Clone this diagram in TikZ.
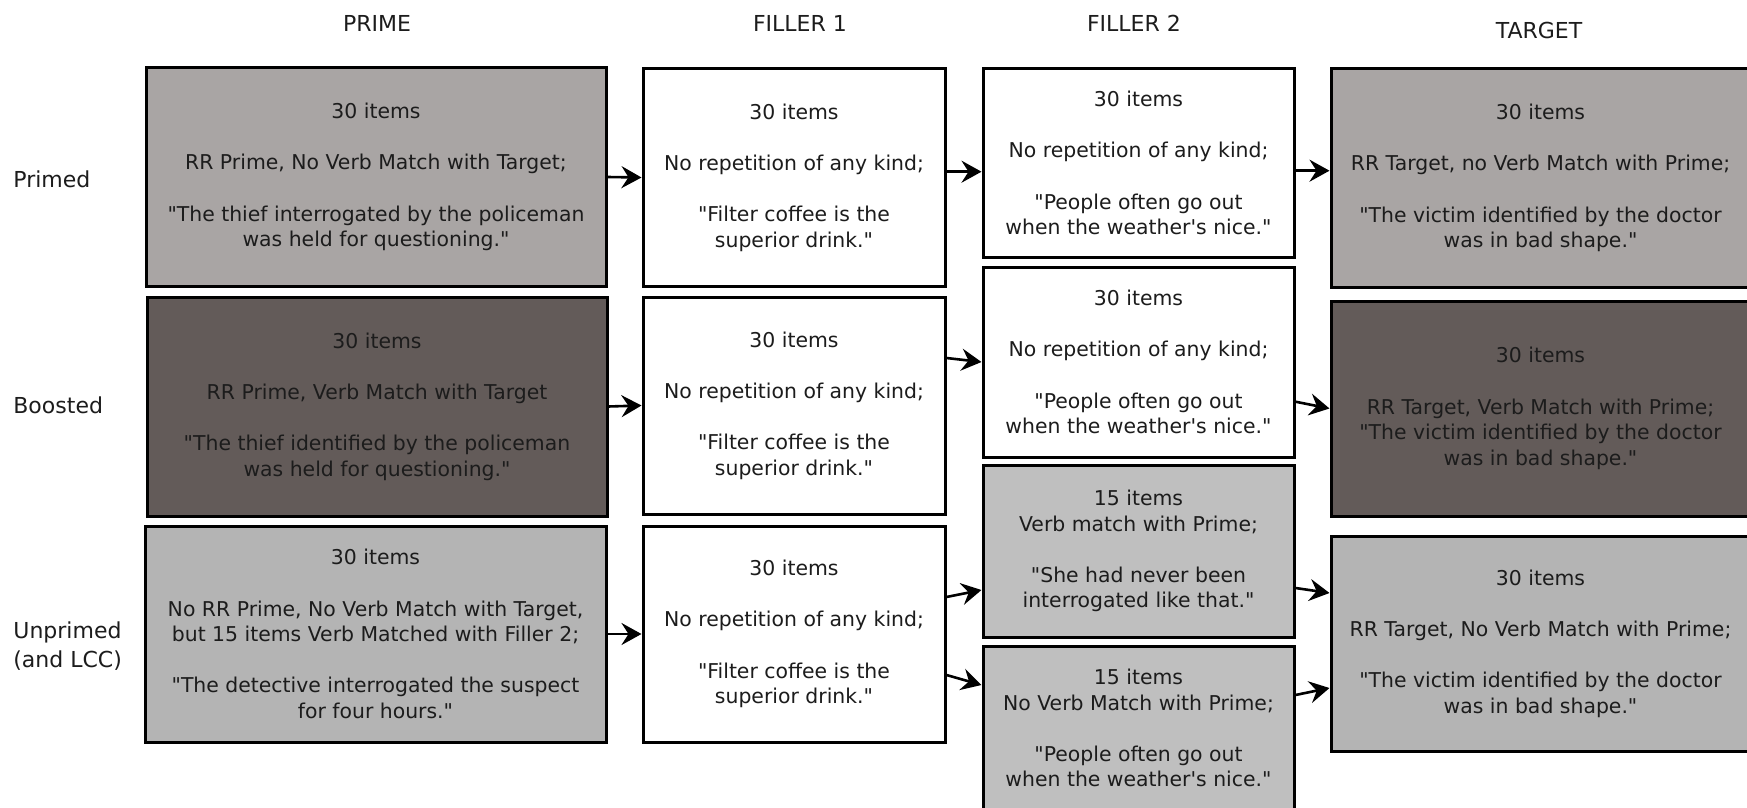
\documentclass[tikz,border=0pt]{standalone}
\usepackage{fontspec}
% plain family (no TeX ligature mapping, so quotes stay straight)
\newfontfamily\dejavu{DejaVu Sans}
\usetikzlibrary{arrows.meta}
\definecolor{primedgray}{RGB}{169,165,164}
\definecolor{boostgray}{RGB}{99,91,89}
\definecolor{unprimedgray}{RGB}{180,180,180}
\definecolor{fillgray}{RGB}{191,191,191}
\definecolor{txt}{RGB}{28,28,28}

\begin{document}
\begin{tikzpicture}[x=0.5pt,y=-0.5pt,
  box/.style={draw=black, line width=1.5pt, rectangle, inner sep=0pt, align=center,
              text=txt, font=\dejavu\fontsize{10.2}{12.8}\selectfont},
  head/.style={anchor=base, text=txt, font=\dejavu\fontsize{11}{13}\selectfont},
  rowlabel/.style={anchor=west, align=left, inner sep=0pt, text=txt, font=\dejavu\fontsize{11}{14.5}\selectfont},
  conn/.style={line width=1.3pt, -{Stealth[length=10pt,width=11pt,inset=3.5pt]}},
]
\path[use as bounding box] (0,0) rectangle (1747,808);
\clip (0,0) rectangle (1747,808);

% column headings
\node[head] (hprime) at (377,32) {PRIME};
\node[head] (hf1)    at (800,32) {FILLER 1};
\node[head] (hf2)    at (1134,32) {FILLER 2};
\node[head] (htgt)   at (1539,38.5) {TARGET};

% row labels
\node[rowlabel] (lprimed)   at (13,179) {Primed};
\node[rowlabel] (lboosted)  at (13,405) {Boosted};
\node[rowlabel] (lunprimed) at (13,646) {Unprimed\\(and LCC)};

% prime column
\node[box, fill=primedgray, minimum width=230pt, minimum height=109pt] (p1) at (376,177)
  {30 items\\[12.8pt]RR Prime, No Verb Match with Target;\\[12.8pt]"The thief interrogated by the policeman\\was held for questioning."};
\node[box, fill=boostgray, minimum width=230pt, minimum height=109.5pt] (p2) at (377,406.5)
  {30 items\\[12.8pt]RR Prime, Verb Match with Target\\[12.8pt]"The thief identified by the policeman\\was held for questioning."};
\node[box, fill=unprimedgray, minimum width=230.5pt, minimum height=108pt] (p3) at (375.5,634)
  {30 items\\[12.8pt]No RR Prime, No Verb Match with Target,\\but 15 items Verb Matched with Filler 2;\\[12.8pt]"The detective interrogated the suspect\\for four hours."};

% filler 1 column
\node[box, fill=white, minimum width=151pt, minimum height=108.5pt] (f1a) at (794,177.5)
  {30 items\\[12.8pt]No repetition of any kind;\\[12.8pt]"Filter coffee is the\\superior drink."};
\node[box, fill=white, minimum width=151pt, minimum height=108.5pt] (f1b) at (794,405.5)
  {30 items\\[12.8pt]No repetition of any kind;\\[12.8pt]"Filter coffee is the\\superior drink."};
\node[box, fill=white, minimum width=151pt, minimum height=108pt] (f1c) at (794,634)
  {30 items\\[12.8pt]No repetition of any kind;\\[12.8pt]"Filter coffee is the\\superior drink."};

% filler 2 column
\node[box, fill=white, minimum width=155.5pt, minimum height=94pt] (f2a) at (1138.5,163)
  {30 items\\[12.8pt]No repetition of any kind;\\[12.8pt]"People often go out\\when the weather's nice."};
\node[box, fill=white, minimum width=155.5pt, minimum height=95pt] (f2b) at (1138.5,362)
  {30 items\\[12.8pt]No repetition of any kind;\\[12.8pt]"People often go out\\when the weather's nice."};
\node[box, fill=fillgray, minimum width=155.5pt, minimum height=86pt] (f2c) at (1138.5,551)
  {15 items\\Verb match with Prime;\\[12.8pt]"She had never been\\interrogated like that."};
\node[box, fill=fillgray, minimum width=155.5pt, minimum height=82pt] (f2d) at (1138.5,728)
  {15 items\\No Verb Match with Prime;\\[12.8pt]"People often go out\\when the weather's nice."};

% target column
\node[box, fill=primedgray, minimum width=209.5pt, minimum height=109pt] (t1) at (1540.5,178)
  {30 items\\[12.8pt]RR Target, no Verb Match with Prime;\\[12.8pt]"The victim identified by the doctor\\was in bad shape."};
\node[box, fill=boostgray, minimum width=209.5pt, minimum height=107.5pt] (t2) at (1540.5,408.5)
  {30 items\\[12.8pt]RR Target, Verb Match with Prime;\\"The victim identified by the doctor\\was in bad shape."};
\node[box, fill=unprimedgray, minimum width=209.5pt, minimum height=107.5pt] (t3) at (1540.5,643.5)
  {30 items\\[12.8pt]RR Target, No Verb Match with Prime;\\[12.8pt]"The victim identified by the doctor\\was in bad shape."};

% connectors
\draw[conn] (p1.east) -- (f1a.west);
\draw[conn] (p2.east) -- (f1b.west);
\draw[conn] (p3.east) -- (f1c.west);

\draw[conn] ([yshift=2.9pt]f1a.east) -- ([yshift=-4.35pt]f2a.west);
\draw[conn] ([yshift=23.75pt]f1b.east) -- (f2b.west);
\draw[conn] ([yshift=18.5pt]f1c.east) -- ([yshift=-19.5pt]f2c.west);
\draw[conn] ([yshift=-20.5pt]f1c.east) -- ([yshift=21.5pt]f2d.west);

\draw[conn] ([yshift=-3.85pt]f2a.east) -- ([yshift=3.65pt]t1.west);
\draw[conn] ([yshift=-19.85pt]f2b.east) -- (t2.west);
\draw[conn] ([yshift=-18.5pt]f2c.east) -- ([yshift=25.25pt]t3.west);
\draw[conn] ([yshift=16.5pt]f2d.east) -- ([yshift=-22.25pt]t3.west);
\end{tikzpicture}
\end{document}
